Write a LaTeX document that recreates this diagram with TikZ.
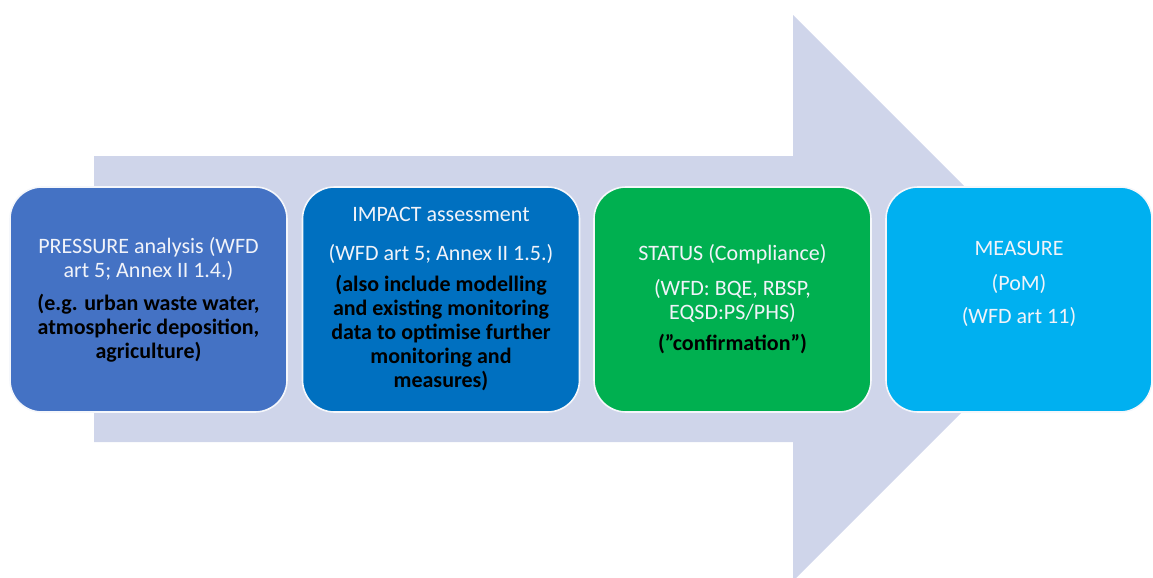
\documentclass[tikz,border=0pt]{standalone}
\usepackage{fontspec}
\setmainfont{Carlito}
\definecolor{ShaftGrey}{HTML}{CFD5EA}
\definecolor{PressureBlue}{HTML}{4472C4}
\definecolor{ImpactBlue}{HTML}{0070C0}
\definecolor{StatusGreen}{HTML}{00B050}
\definecolor{MeasureCyan}{HTML}{00B0F0}
\colorlet{PaleText}{white!70!ShaftGrey}
\newcommand\DarkLine{\bfseries\color{black}}
\tikzset{
  StepBox/.style = { rectangle, rounded corners=16pt, draw=white!80!ShaftGrey,
                     line width=0.8pt, inner sep=0pt, align=center,
                     minimum width=138.5pt, minimum height=112.5pt,
                     text=PaleText,
                     font=\fontsize{11}{12}\selectfont } }

\begin{document}
\begin{tikzpicture}[x=0.5pt,y=-0.5pt]
  \useasboundingbox (0,0) rectangle (1153,578);
  \clip (0,0) rectangle (1153,578);
  \fill[ShaftGrey] (94,156) -- (793,156) -- (793,15) -- (1076,298)
    -- (793,581) -- (793,442) -- (94,442) -- cycle;

  \node[StepBox, fill=PressureBlue] (pressure) at (148.5,299.5)
    {PRESSURE analysis (WFD\\ art 5; Annex II 1.4.)\\[4.5pt]
     \DarkLine (e.g. urban waste water,\\ \DarkLine atmospheric deposition,\\
     \DarkLine agriculture)};
  \node[StepBox, fill=ImpactBlue] (impact) at (441,299.5)
    {IMPACT assessment\\[7.5pt] (WFD art 5; Annex II 1.5.)\\[3.5pt]
     \DarkLine (also include modelling\\ \DarkLine and existing monitoring\\
     \DarkLine data to optimise further\\ \DarkLine monitoring and\\
     \DarkLine measures)};
  \node[StepBox, fill=StatusGreen] (status) at (732.5,299.5)
    {STATUS (Compliance)\\[5.5pt] (WFD: BQE, RBSP,\\ EQSD:PS/PHS)\\[3.5pt]
     \DarkLine (”confirmation”)};
  \node[StepBox, fill=MeasureCyan, minimum width=133pt] (measure) at (1019,299.5)
    {MEASURE\\[5.5pt] (PoM)\\[4.5pt] (WFD art 11)\\[5pt] \mbox{}};
\end{tikzpicture}
\end{document}
